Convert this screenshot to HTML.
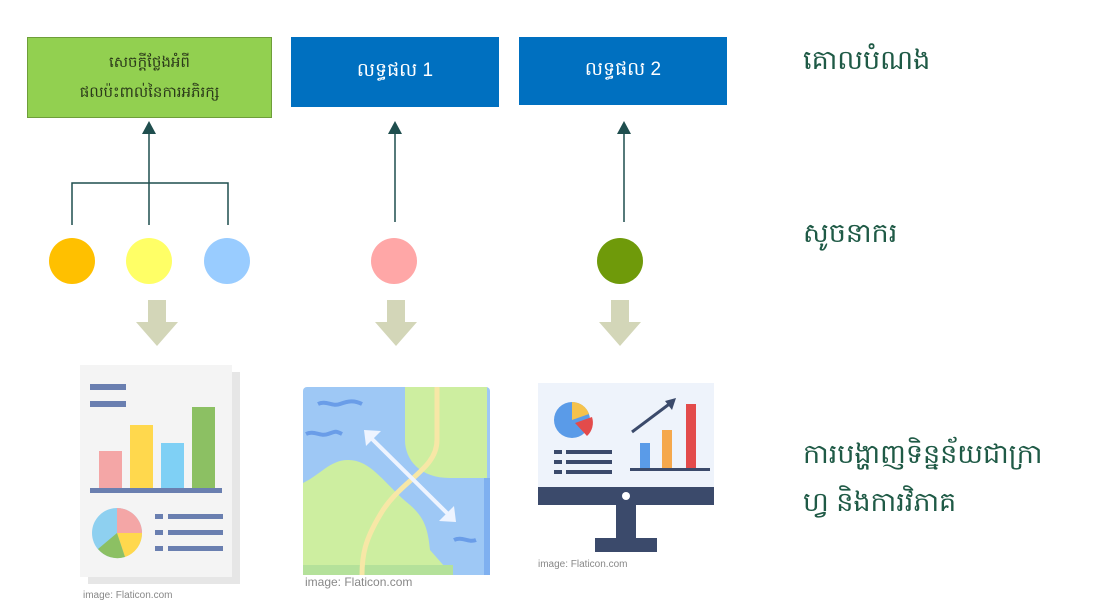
<!DOCTYPE html>
<html><head><meta charset="utf-8"><style>
body{margin:0;background:#fff;width:1093px;height:612px;overflow:hidden;font-family:"Liberation Sans","Noto Sans CJK SC",sans-serif}
.box{position:absolute;display:flex;align-items:center;justify-content:center;text-align:center}
.lbl{position:absolute;color:#1f5a46;font-size:27px;white-space:nowrap}
.cap{font-size:10px;fill:#888}
</style></head><body>
<div class="box" style="left:27px;top:37px;width:243px;height:79px;background:#92d050;border:1px solid #6e9e3a;color:#2b3a1a;font-size:15px;line-height:30px">សេចក្តីថ្លែងអំពី<br>ផលប៉ះពាល់នៃការអភិរក្ស</div>
<div class="box" style="left:291px;top:37px;width:208px;height:70px;background:#0070c0;color:#fff;font-size:19px">លទ្ធផល 1</div>
<div class="box" style="left:519px;top:37px;width:208px;height:68px;background:#0070c0;color:#fff;font-size:19px">លទ្ធផល 2</div>
<div class="lbl" style="left:803px;top:44px">គោលបំណង</div>
<div class="lbl" style="left:803px;top:217px">សូចនាករ</div>
<div class="lbl" style="left:803px;top:430px;line-height:48px">ការបង្ហាញទិន្នន័យជាក្រា<br>ហ្វ និងការវិភាគ</div>
<svg width="1093" height="612" style="position:absolute;left:0;top:0">
<g stroke="#1f4e4e" stroke-width="1.5" fill="none">
<path d="M72 225V183H228V225M149 225V130M395 222V130M624 222V130"/>
</g>
<g fill="#1f4e4e">
<path d="M142 134L149 121L156 134Z"/><path d="M388 134L395 121L402 134Z"/><path d="M617 134L624 121L631 134Z"/>
</g>
<circle cx="72" cy="261" r="23" fill="#ffc000"/>
<circle cx="149" cy="261" r="23" fill="#ffff66"/>
<circle cx="227" cy="261" r="23" fill="#99ccff"/>
<circle cx="394" cy="261" r="23" fill="#ffa7a7"/>
<circle cx="620" cy="261" r="23" fill="#6f9a0a"/>
<g fill="#d3d6b8">
<path d="M148 300h18v22h12l-21 24l-21-24h12z"/>
<path d="M387 300h18v22h12l-21 24l-21-24h12z"/>
<path d="M611 300h18v22h12l-21 24l-21-24h12z"/>
</g>
<g>
<rect x="88" y="372" width="152" height="212" fill="#e6e6e6"/>
<rect x="80" y="365" width="152" height="212" fill="#f4f4f4"/>
<rect x="90" y="384" width="36" height="6" fill="#6a7fb0"/><rect x="90" y="401" width="36" height="6" fill="#6a7fb0"/>
<rect x="99" y="451" width="23" height="38" fill="#f4a6a6"/><rect x="130" y="425" width="23" height="64" fill="#ffd84d"/>
<rect x="161" y="443" width="23" height="46" fill="#7fd0f5"/><rect x="192" y="407" width="23" height="82" fill="#8cc063"/>
<rect x="90" y="488" width="132" height="5" fill="#6a7fb0"/>
<circle cx="117" cy="533" r="25" fill="#8ed0f0"/><path d="M117 533V508A25 25 0 0 1 142 533Z" fill="#f4a6a6"/><path d="M117 533H142A25 25 0 0 1 125 557Z" fill="#ffd84d"/><path d="M117 533L125 557A25 25 0 0 1 98 549Z" fill="#8cc063"/>
<g fill="#6a7fb0"><rect x="155" y="514" width="8" height="5"/><rect x="168" y="514" width="55" height="5"/><rect x="155" y="530" width="8" height="5"/><rect x="168" y="530" width="55" height="5"/><rect x="155" y="546" width="8" height="5"/><rect x="168" y="546" width="55" height="5"/></g>
<text x="83" y="598" class="cap">image: Flaticon.com</text>
</g>
<g>
<rect x="303" y="387" width="187" height="188" rx="4" fill="#9ec8f5"/>
<path d="M405 387H487V478H450C420 478 405 460 405 440Z" fill="#cdeea0"/>
<path d="M303 483C320 475 330 460 348 460C372 460 385 485 410 505C425 518 428 530 430 550L452 575H303Z" fill="#cdeea0"/>
<rect x="303" y="565" width="150" height="10" fill="#b4e19a"/>
<rect x="484" y="478" width="6" height="97" fill="#7fb0f0"/>
<path d="M437 387V440C437 470 400 480 380 515C365 540 362 555 362 575" stroke="#f7e7a6" stroke-width="5" fill="none"/>
<path d="M318 404c8-4 14 3 22 0s14-4 22 0M306 434c8-4 14 3 22 0s8-3 14 0M454 540c8-4 14 3 22 0" stroke="#6a9de8" stroke-width="4" fill="none"/>
<path d="M368 435L452 518" stroke="#eef4ff" stroke-width="4"/>
<path d="M364 430l17 1l-15 15zM456 522l-17-1l15-15z" fill="#eef4ff"/>
<text x="305" y="586" class="cap" style="font-size:12px">image: Flaticon.com</text>
</g>
<g>
<rect x="538" y="383" width="176" height="104" fill="#eef3fb"/>
<rect x="538" y="487" width="176" height="18" fill="#3b4a6b"/>
<circle cx="626" cy="496" r="4" fill="#fff"/>
<rect x="616" y="505" width="20" height="33" fill="#3b4a6b"/><rect x="595" y="538" width="62" height="14" fill="#3b4a6b"/>
<circle cx="572" cy="420" r="18" fill="#5a9be8"/><path d="M572 420V402A18 18 0 0 1 589 414Z" fill="#f5c24c"/><path d="M575 423l17-6a18 18 0 0 1-5 19z" fill="#e34b4b"/>
<g fill="#3b4a6b"><rect x="554" y="450" width="8" height="4"/><rect x="566" y="450" width="46" height="4"/><rect x="554" y="460" width="8" height="4"/><rect x="566" y="460" width="46" height="4"/><rect x="554" y="470" width="8" height="4"/><rect x="566" y="470" width="46" height="4"/></g>
<rect x="640" y="443" width="10" height="25" fill="#5a9be8"/><rect x="662" y="430" width="10" height="38" fill="#f5a84c"/><rect x="686" y="404" width="10" height="64" fill="#e34b4b"/>
<rect x="630" y="468" width="80" height="3" fill="#3b4a6b"/>
<path d="M632 432L672 402" stroke="#3b4a6b" stroke-width="3"/><path d="M676 398l-4 12l-7-9z" fill="#3b4a6b"/>
<text x="538" y="567" class="cap">image: Flaticon.com</text>
</g>
</svg>
</body></html>
